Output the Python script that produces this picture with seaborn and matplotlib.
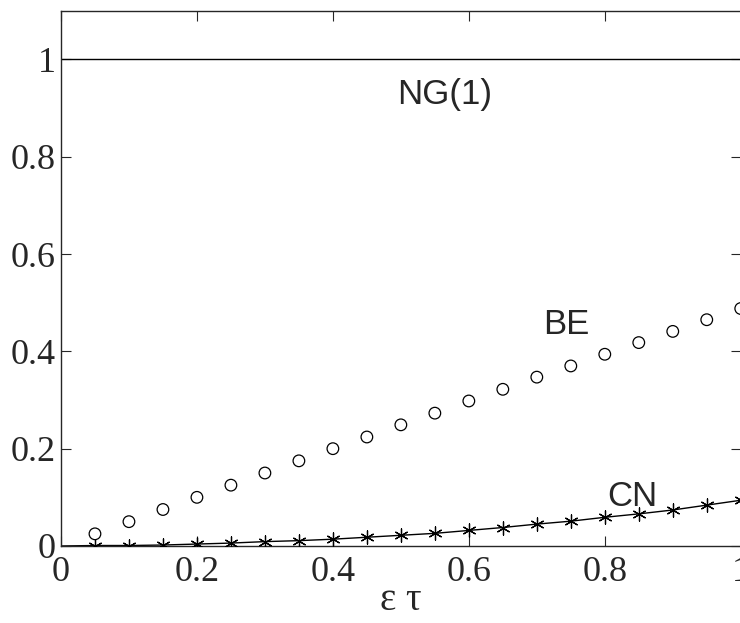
import numpy as np
import pandas as pd
import matplotlib
matplotlib.use("Agg")
import matplotlib.pyplot as plt
import seaborn as sns

# data
eps_tau = [0.05, 0.10, 0.15, 0.20, 0.25, 0.30, 0.35, 0.40, 0.45, 0.50,
           0.55, 0.60, 0.65, 0.70, 0.75, 0.80, 0.85, 0.90, 0.95, 1.00]
be_vals = [0.025, 0.050, 0.075, 0.100, 0.125, 0.150, 0.175, 0.200, 0.224, 0.249,
           0.273, 0.298, 0.322, 0.347, 0.370, 0.394, 0.418, 0.441, 0.465, 0.488]
cn_vals = [0.001, 0.001, 0.002, 0.004, 0.006, 0.009, 0.011, 0.014, 0.018, 0.022,
           0.026, 0.032, 0.038, 0.045, 0.051, 0.059, 0.066, 0.074, 0.084, 0.094]
ng_x = [0.0, 1.0]
ng_vals = [1.0, 1.0]

df = pd.DataFrame({"eps_tau": eps_tau, "BE": be_vals, "CN": cn_vals})

sns.set_style("ticks")
plt.rcParams["font.family"] = ["Liberation Serif", "DejaVu Serif"]

fig = plt.figure(figsize=(7.40, 6.23), dpi=100)
ax = fig.add_axes([0.0824, 0.1236, 0.9186, 0.8592])

# NG(1) reference line
sns.lineplot(x=ng_x, y=ng_vals, ax=ax, color="black", linewidth=1.0)

# BE: open circles
sns.scatterplot(data=df, x="eps_tau", y="BE", ax=ax, marker="o", s=70,
                facecolor="none", edgecolor="black", linewidth=0.9, zorder=3)

# CN: solid line with asterisks
ax.plot(np.r_[0.0, df["eps_tau"]], np.r_[0.0, df["CN"]], color="black", linewidth=1.0)
sns.scatterplot(data=df, x="eps_tau", y="CN", ax=ax, marker=(6, 2, 0), s=90,
                color="black", linewidth=0.9, zorder=3)

ax.set_xlim(0, 1)
ax.set_ylim(0, 1.1)
ax.set_xticks([0, 0.2, 0.4, 0.6, 0.8, 1])
ax.set_xticklabels(["0", "0.2", "0.4", "0.6", "0.8", "1"])
ax.set_yticks([0, 0.2, 0.4, 0.6, 0.8, 1])
ax.set_yticklabels(["0", "0.2", "0.4", "0.6", "0.8", "1"])
ax.tick_params(direction="in", length=7, width=0.8, labelsize=26,
               top=True, right=True, pad=4)
ax.tick_params(axis="x", pad=7)
for sp in ax.spines.values():
    sp.set_visible(True)
    sp.set_linewidth(1.0)

ax.set_xlabel("ε τ", fontsize=28, labelpad=-5)
ax.set_ylabel("")

sans = ["Liberation Sans", "DejaVu Sans"]
ax.text(0.565, 0.928, "NG(1)", family=sans, fontsize=25, ha="center", va="center")
ax.text(0.743, 0.455, "BE", family=sans, fontsize=25, ha="center", va="center")
ax.text(0.84, 0.101, "CN", family=sans, fontsize=25, ha="center", va="center")

fig.savefig("out.png", dpi=100)
plt.close(fig)
